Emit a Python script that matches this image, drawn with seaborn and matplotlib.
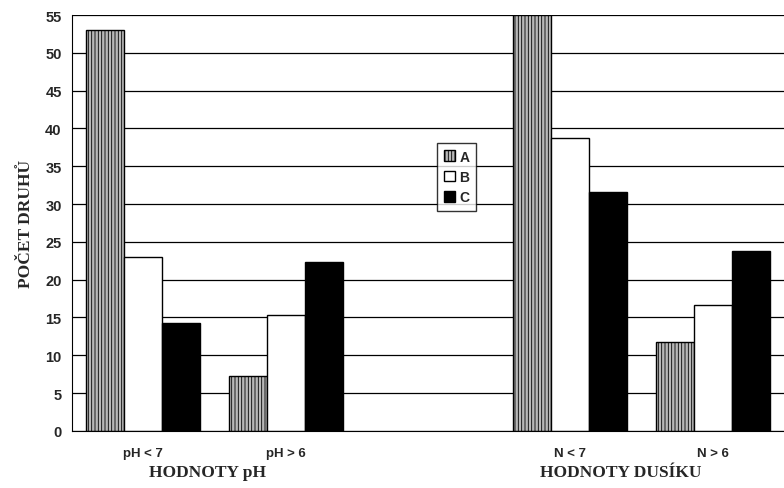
import pandas as pd
import numpy as np
import seaborn as sns
import matplotlib.pyplot as plt
from matplotlib.patches import Patch
from matplotlib.transforms import blended_transform_factory

# values
categories = ["pH < 7", "pH > 6", "", "N < 7", "N > 6"]
series = ["A", "B", "C"]
vals_A = [53.0, 7.3, np.nan, 55.0, 11.8]
vals_B = [23.0, 15.3, np.nan, 38.7, 16.7]
vals_C = [14.3, 22.4, np.nan, 31.6, 23.8]
group_titles = ["HODNOTY pH", "HODNOTY DUSÍKU"]

rows = []
for s, v in zip(series, [vals_A, vals_B, vals_C]):
    for c, x in zip(categories, v):
        rows.append({"kat": c, "skupina": s, "pocet": x})
df = pd.DataFrame(rows).dropna()

sns.set_style("white")
plt.rcParams['hatch.linewidth'] = 0.6

fig = plt.figure(figsize=(7.84, 4.89), dpi=100)
ax = fig.add_axes([0.092, 0.117, 0.908, 0.85])

face = {"A": "#b8b8b8", "B": "white", "C": "black"}
sns.barplot(data=df, x="kat", y="pocet", hue="skupina", order=categories,
            hue_order=series, palette=face, width=0.8, edgecolor="black",
            linewidth=1, ax=ax, legend=False)

for cont, s in zip(ax.containers, series):
    for bar in cont:
        bar.set_facecolor(face[s])
        bar.set_edgecolor("black")
        if s == "A":
            bar.set_hatch("|||||")

ax.set_ylim(0, 55)
ax.set_xlim(-0.5, 4.5)
ax.set_yticks(range(0, 56, 5))
ax.yaxis.grid(True, color="black", linewidth=0.9)
ax.set_axisbelow(True)
for sp in ["top", "right"]:
    ax.spines[sp].set_visible(False)
ax.spines["left"].set_color("black")
ax.spines["bottom"].set_color("black")

ax.tick_params(axis="y", which="major", length=7, direction="inout", color="black",
               labelsize=10.5, pad=4)
ax.tick_params(axis="x", which="major", length=0, labelsize=9.5, pad=12)
ax.set_xticks([0.5, 1.5, 2.5, 3.5], minor=True)
ax.tick_params(axis="x", which="minor", length=4, direction="out", color="black")
for lbl in ax.get_xticklabels() + ax.get_yticklabels():
    lbl.set_fontweight("bold")
    lbl.set_fontfamily("Liberation Sans")

ax.set_xlabel("")
ax.set_ylabel("POČET DRUHŮ", fontsize=12.5, fontweight="bold",
              fontfamily="Liberation Serif", labelpad=8)

trans = blended_transform_factory(ax.transData, ax.transAxes)
ax.text(0.45, -0.08, group_titles[0], transform=trans, ha="center", va="top",
        fontsize=12.5, fontweight="bold", fontfamily="Liberation Serif")
ax.text(3.35, -0.08, group_titles[1], transform=trans, ha="center", va="top",
        fontsize=12.5, fontweight="bold", fontfamily="Liberation Serif")

handles = [Patch(facecolor=face[s], edgecolor="black", hatch="|||||" if s == "A" else None,
                 label=s) for s in series]
leg = ax.legend(handles=handles, loc="upper left", bbox_to_anchor=(0.503, 0.71),
                frameon=True, fancybox=False, handlelength=0.8, handleheight=0.8,
                handletextpad=0.3, labelspacing=0.45, borderpad=0.5,
                prop={"family": "Liberation Sans", "weight": "bold", "size": 10})
leg.get_frame().set_edgecolor("black")
leg.get_frame().set_linewidth(1)

fig.savefig("out.png", dpi=100)
